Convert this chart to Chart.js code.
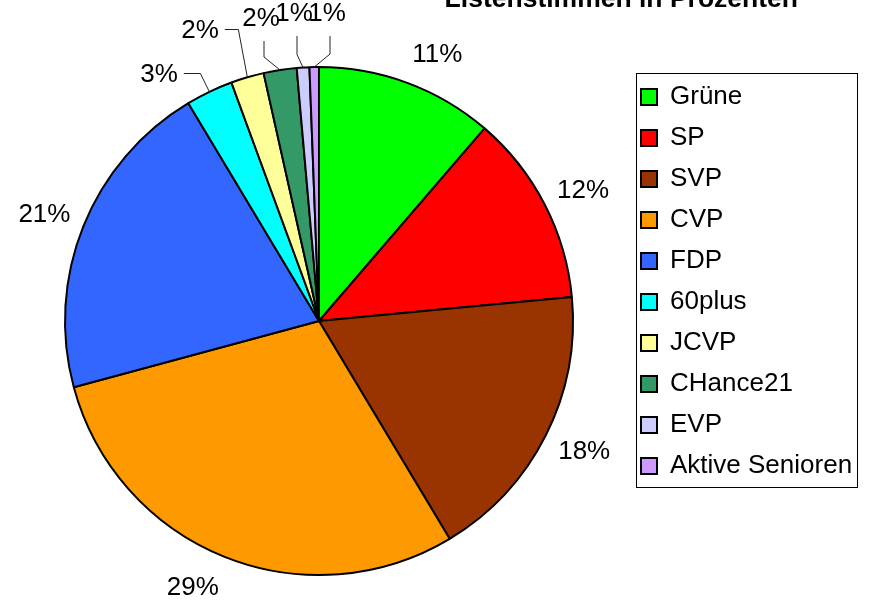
<!DOCTYPE html>
<html>
<head>
<meta charset="utf-8">
<title>Listenstimmen in Prozenten</title>
<script src="https://cdn.jsdelivr.net/npm/chart.js@4.4.1/dist/chart.umd.min.js"></script>
<style>
  body { margin: 0; background: #fff; }
</style>
</head>
<body>
<canvas id="myChart" width="870" height="604"></canvas>
<script>
  const parteien = ['Grüne', 'SP', 'SVP', 'CVP', 'FDP', '60plus', 'JCVP', 'CHance21', 'EVP', 'Aktive Senioren'];
  const prozente = [11.3, 12.2, 17.9, 29.4, 20.6, 3.0, 2.1, 2.1, 0.8, 0.6];
  const farben = ['#00ff00', '#ff0000', '#993300', '#ff9900', '#3366ff',
                  '#00ffff', '#ffff99', '#339966', '#ccccff', '#cc99ff'];

  const schrift = '"Liberation Sans", Arial, sans-serif';

  // kleine Stuecke: Beschriftung relativ zur Kreismitte, mit Fuehrungslinie
  const callouts = {
    5: { dx: -160, dy: -246, bend: 'h' },
    6: { dx: -119, dy: -290, bend: 'h' },
    7: { dx: -58, dy: -302, bend: 'v' },
    8: { dx: -25, dy: -307, bend: 'v' },
    9: { dx: 8, dy: -307, bend: 'v' }
  };

  const prozentLabels = {
    id: 'prozentLabels',
    afterDatasetsDraw(chart) {
      const ctx = chart.ctx;
      const meta = chart.getDatasetMeta(0);
      ctx.save();
      ctx.font = '26px ' + schrift;
      ctx.fillStyle = '#000';
      ctx.strokeStyle = '#222';
      ctx.lineWidth = 1;
      ctx.textAlign = 'center';
      ctx.textBaseline = 'middle';
      meta.data.forEach((arc, i) => {
        const p = arc.getProps(['x', 'y', 'startAngle', 'endAngle', 'outerRadius']);
        const mid = (p.startAngle + p.endAngle) / 2;
        const cx = Math.cos(mid), cy = Math.sin(mid);
        const ex = p.x + cx * p.outerRadius, ey = p.y + cy * p.outerRadius;
        const text = Math.round(prozente[i]) + '%';
        const hw = ctx.measureText(text).width / 2;
        const c = callouts[i];
        let lx, ly;
        if (c) {
          lx = p.x + c.dx;
          ly = p.y + c.dy;
          ctx.beginPath();
          if (c.bend === 'h') {
            ctx.moveTo(lx + hw + 6, ly - 1.5);
            ctx.lineTo(ex - 9, ly - 1.5);
          } else {
            ctx.moveTo(lx + 3, ly + 22);
            ctx.lineTo(lx + 3, ey - 13);
          }
          ctx.lineTo(ex, ey);
          ctx.stroke();
        } else {
          lx = p.x + cx * (p.outerRadius + 14) + Math.sign(cx) * hw;
          ly = p.y + cy * (p.outerRadius + 30) + (cy > 0 ? 3 : 0);
        }
        ctx.fillText(text, lx, ly);
      });
      ctx.restore();
    }
  };

  // Legende an die Stelle des Originals schieben und einrahmen
  const legendeRahmen = {
    id: 'legendeRahmen',
    afterLayout(chart) {
      const lg = chart.legend;
      const w = lg.width, h = lg.height;
      lg.left = 626;
      lg.top = 69;
      lg.right = lg.left + w;
      lg.bottom = lg.top + h;
    },
    afterDraw(chart) {
      const lg = chart.legend;
      const ctx = chart.ctx;
      ctx.save();
      ctx.strokeStyle = '#000';
      ctx.lineWidth = 1;
      ctx.strokeRect(lg.left + 10.5, lg.top + 4.5, 221, 414);
      ctx.restore();
    }
  };

  const data = {
    labels: parteien,
    datasets: [{
      data: prozente,
      backgroundColor: farben,
      borderColor: '#000',
      borderWidth: 2,
      radius: 254,
      clip: false
    }]
  };

  const config = {
    type: 'pie',
    data: data,
    options: {
      responsive: false,
      animation: false,
      layout: { padding: { left: 76, right: 72, top: 0, bottom: 2 } },
      plugins: {
        title: {
          display: true,
          text: 'Listenstimmen in Prozenten',
          align: 'end',
          color: '#000',
          font: { size: 26.5, weight: 'bold', family: schrift },
          padding: { top: -15.9, bottom: 24.1 }
        },
        legend: {
          position: 'right',
          align: 'start',
          maxWidth: 236,
          labels: {
            boxWidth: 16,
            boxHeight: 16,
            padding: 15,
            color: '#000',
            font: { size: 26, family: schrift }
          }
        },
        tooltip: { enabled: false }
      }
    },
    plugins: [prozentLabels, legendeRahmen]
  };

  const myChart = new Chart(
    document.getElementById('myChart'),
    config
  );
</script>
</body>
</html>
